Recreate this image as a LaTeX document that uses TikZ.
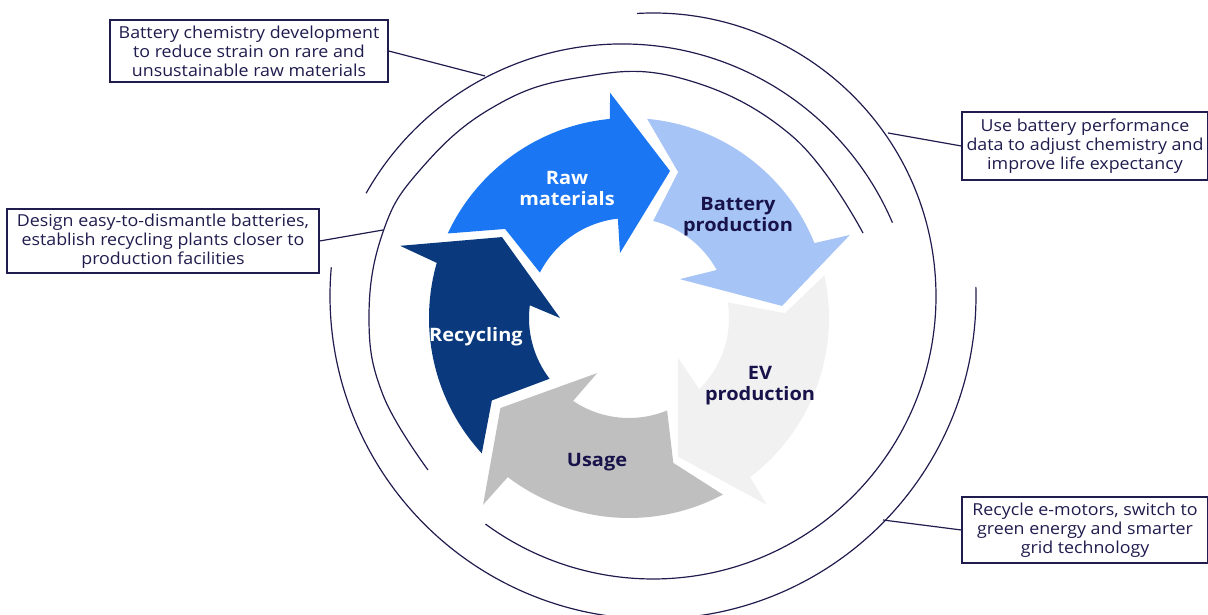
\documentclass[tikz,border=0pt]{standalone}
\usepackage{fontspec}
\setmainfont{Open Sans}[FakeStretch=1.08]
\definecolor{ink}{HTML}{201C4E}
\definecolor{labeldark}{HTML}{17134A}
\definecolor{rawc}{HTML}{1A76F2}
\definecolor{batc}{HTML}{A7C4F6}
\definecolor{evc}{HTML}{F1F1F1}
\definecolor{usec}{HTML}{BFBFBF}
\definecolor{recc}{HTML}{0A3A7D}
\begin{document}
\begin{tikzpicture}[x=1pt,y=1pt,
  note/.style={draw=ink, line width=1.3, fill=white, inner sep=0, align=center, text=ink, font=\fontsize{16.5}{19}\selectfont},
  lbl/.style={align=center, font=\fontsize{18.5}{21}\selectfont\bfseries},
  ring/.style={draw=ink, line width=1.2},
  lead/.style={draw=ink, line width=1.2}]
\useasboundingbox (0,0) rectangle (1208,615);
\clip (0,0) rectangle (1208,615);

% rings
\draw[ring] (653,319) ++(93.2:283) arc[start angle=93.2,end angle=-126.3,radius=283];
\draw[ring] (653,319) ++(1.6:323) arc[start angle=1.6,end angle=-185.1,radius=323];
\draw[ring] (622,277) ++(150.5:294) arc[start angle=150.5,end angle=23.1,radius=294];
\draw[ring] plot[smooth, tension=0.7] coordinates {(863,382) (792,479) (680,537) (576,537) (490,506) (420,445) (383,383) (369,298) (383,220) (428,145)};

% cycle arrows
\begin{scope}[shift={(629,297)}]
\fill[rawc] (155:200) arc[start angle=155,end angle=95.5,radius=200] -- (94.8:226) -- (74.4:152.6) -- (97.9:65.6) -- (96.4:100) arc[start angle=96.4,end angle=153,radius=100] -- (144.3:152.6) -- cycle;
\fill[batc] (84.8:200) arc[start angle=84.8,end angle=22,radius=200] -- (20.6:236) -- (4.5:153.5) -- (37.4:64) -- (28.7:100) arc[start angle=28.7,end angle=76,radius=100] -- (71.4:154) -- cycle;
\fill[evc] (12.3:200) arc[start angle=12.3,end angle=-52.7,radius=200] -- (-53.6:232) -- (-70.6:147) -- (-39:63) -- (-45.4:100) arc[start angle=-45.4,end angle=9,radius=100] -- (1.8:156) -- cycle;
\fill[usec] (-62:200) arc[start angle=-62,end angle=-127.3,radius=200] -- (-128:237) -- (-145:157) -- (-120:63.6) -- (-124:100) arc[start angle=-124,end angle=-67.6,radius=100] -- (-73:151.5) -- cycle;
\fill[recc] (222.6:200) arc[start angle=222.6,end angle=164,radius=200] -- (162.5:240) -- (147.5:150.6) -- (180:69) -- (172.7:100) arc[start angle=172.7,end angle=217.4,radius=100] -- (211:160) -- cycle;
\end{scope}

% labels
\node[lbl, text=white] (rawlbl) at (567,427) {Raw\\materials};
\node[lbl, text=labeldark] (batlbl) at (738,398.5) {Battery\\production};
\node[lbl, text=labeldark] (evlbl) at (760,229) {EV\\production};
\node[lbl, text=labeldark] (uselbl) at (597,152.5) {Usage};
\node[lbl, text=white] (reclbl) at (476,278.5) {Recycling};

% leader points on rings
\coordinate (k1) at (485,539);
\coordinate (k2) at (383,385);
\coordinate (k3) at (888,482);
\coordinate (k4) at (883,95);

% notes
\node[note, minimum width=278, minimum height=62] (b1) at (249,564) {Battery chemistry development\\to reduce strain on rare and\\unsustainable raw materials};
\node[note, minimum width=312, minimum height=64] (b2) at (163,374) {Design easy-to-dismantle batteries,\\establish recycling plants closer to\\production facilities};
\node[note, minimum width=246, minimum height=68] (b3) at (1085,469) {Use battery performance\\data to adjust chemistry and\\improve life expectancy};
\node[note, minimum width=246, minimum height=66] (b4) at (1085,85) {Recycle e-motors, switch to\\green energy and smarter\\grid technology};

\draw[lead] (b1.east) -- (k1);
\draw[lead] (b2.east) -- (k2);
\draw[lead] (b3.west) -- (k3);
\draw[lead] (b4.west) -- (k4);
\end{tikzpicture}
\end{document}
